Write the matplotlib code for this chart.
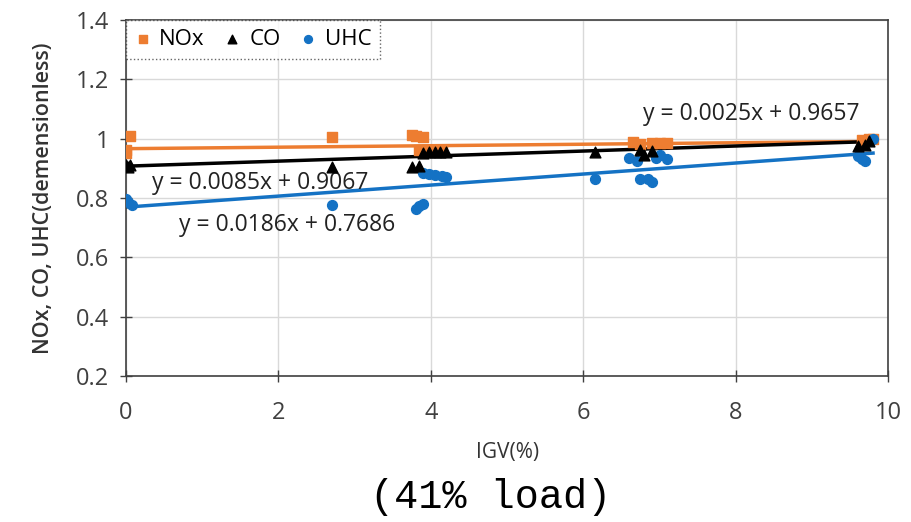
import numpy as np
import matplotlib
matplotlib.use("Agg")
import matplotlib.pyplot as plt

# datos (41% load)
nox_x = [0.0, 0.0, 0.05, 2.7, 3.75, 3.8, 3.9, 3.85, 3.95, 4.05, 4.15, 6.65, 6.75, 6.9, 7.0, 7.1, 9.65, 9.75, 9.8]
nox_y = [0.95, 0.96, 1.009, 1.004, 1.012, 1.008, 1.006, 0.96, 0.96, 0.962, 0.962, 0.988, 0.982, 0.986, 0.984, 0.985, 0.995, 1.0, 1.0]

co_x = [0.0, 0.03, 0.06, 2.7, 3.75, 3.85, 3.9, 3.98, 4.05, 4.12, 4.2, 6.15, 6.75, 6.8, 6.9, 9.6, 9.7, 9.75]
co_y = [0.91, 0.905, 0.912, 0.905, 0.905, 0.908, 0.952, 0.955, 0.955, 0.955, 0.953, 0.955, 0.962, 0.945, 0.958, 0.975, 0.978, 0.99]

uhc_x = [0.0, 0.03, 0.08, 2.7, 3.8, 3.85, 3.9, 3.9, 3.97, 4.05, 4.15, 4.2, 6.15, 6.6, 6.7, 6.75, 6.85, 6.9, 6.95, 7.0, 7.1, 9.6, 9.65, 9.7, 9.8]
uhc_y = [0.795, 0.785, 0.775, 0.775, 0.762, 0.772, 0.778, 0.885, 0.882, 0.878, 0.875, 0.87, 0.865, 0.935, 0.925, 0.862, 0.865, 0.855, 0.935, 0.945, 0.932, 0.94, 0.93, 0.925, 1.0]

# lineas de tendencia (pendiente, intercepto)
fit_nox = (0.0025, 0.9657)
fit_co = (0.0085, 0.9067)
fit_uhc = (0.0186, 0.7686)

c_nox = "#ED7D31"
c_co = "#000000"
c_uhc = "#1472C4"

fig = plt.figure(figsize=(9.12, 5.22), dpi=100)
ax = fig.add_axes([0.138, 0.280, 0.836, 0.682])

ax.scatter(nox_x, nox_y, marker="s", s=50, color=c_nox, label="NOx", zorder=3)
ax.scatter(co_x, co_y, marker="^", s=60, color=c_co, label="CO", zorder=4)
ax.scatter(uhc_x, uhc_y, marker="o", s=50, color=c_uhc, label="UHC", zorder=3)

for xs, fit, c in [(nox_x, fit_nox, c_nox), (co_x, fit_co, c_co), (uhc_x, fit_uhc, c_uhc)]:
    xl = np.array([min(xs), max(xs)])
    ax.plot(xl, fit[0] * xl + fit[1], color=c, lw=2.5, zorder=2)

txt = dict(fontsize=16.5, family="Open Sans", color="#222222", ha="center", va="center")
ax.text(8.2, 1.083, "y = 0.0025x + 0.9657", **txt)
ax.text(1.76, 0.85, "y = 0.0085x + 0.9067", **txt)
ax.text(2.11, 0.709, "y = 0.0186x + 0.7686", **txt)

ax.set_xlim(0, 10)
ax.set_ylim(0.2, 1.4)
ax.set_xticks(np.arange(0, 11, 2))
ax.set_yticks([0.2, 0.4, 0.6, 0.8, 1.0, 1.2, 1.4])
ax.set_yticklabels(["0.2", "0.4", "0.6", "0.8", "1", "1.2", "1.4"])
ax.grid(True, color="#D9D9D9", lw=1)
ax.set_axisbelow(True)
ax.tick_params(direction="inout", length=8, width=1, colors="#404040", labelsize=17, labelcolor="#404040")
ax.tick_params(axis="x", pad=14)
ax.tick_params(axis="y", pad=8)
for lab in ax.get_xticklabels() + ax.get_yticklabels():
    lab.set_family("Open Sans")
for s in ax.spines.values():
    s.set_color("#404040")
    s.set_linewidth(1.2)

ax.set_xlabel("IGV(%)", fontsize=15, family="Open Sans", color="#333333", labelpad=12)
ax.set_ylabel("NOx, CO, UHC(demensionless)", fontsize=15.5, family="Open Sans",
              fontweight="semibold", color="#333333", labelpad=16)

leg = ax.legend(loc="upper left", ncol=3, frameon=True, fancybox=False,
                borderaxespad=0, handlelength=0.7, handletextpad=0.4, columnspacing=0.9,
                markerscale=0.8, borderpad=0.4, prop={"family": "Open Sans", "size": 16})
leg.get_frame().set_edgecolor("#404040")
leg.get_frame().set_linestyle(":")
leg.get_frame().set_linewidth(1)

fig.text(0.538, 0.048, "(41% load)", fontsize=29, family="Liberation Mono", ha="center", va="center")

fig.savefig("out.png", dpi=100)
